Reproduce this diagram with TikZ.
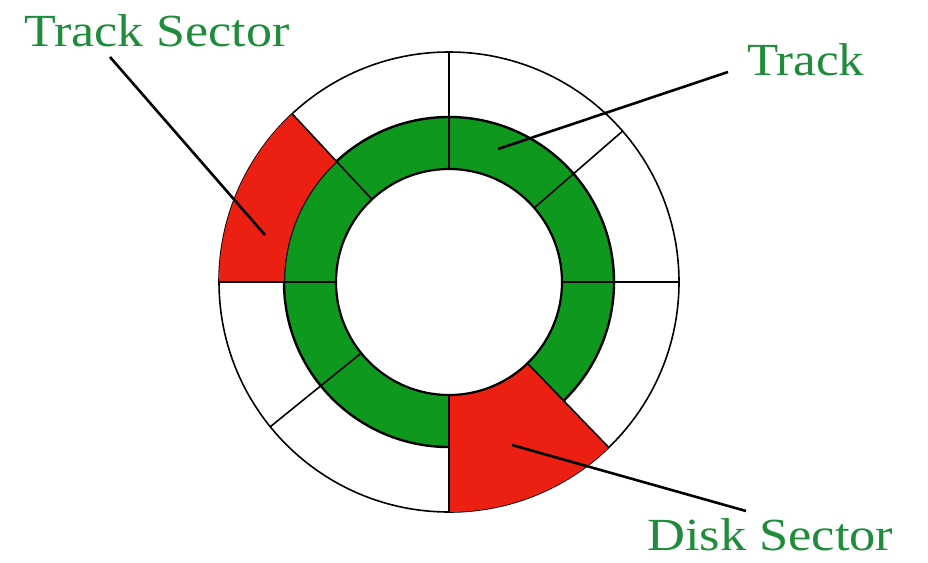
\documentclass[tikz,border=0pt]{standalone}
\usepackage{fontspec}
\setmainfont{Liberation Serif}
\usetikzlibrary{calc}
\definecolor{ringgreen}{RGB}{14,152,30}
\definecolor{secred}{RGB}{236,32,18}
\definecolor{labgreen}{RGB}{30,140,58}
\tikzset{
  lab/.style={text=labgreen, font=\fontsize{46}{50}\selectfont, inner sep=0pt, anchor=base west},
  pointer/.style={line width=2.6pt, black},
  thin/.style={line width=1.6pt, black},
}
\newcommand{\wide}[2][1.1]{\scalebox{#1}[1]{#2}}
\begin{document}
\begin{tikzpicture}[x=1pt,y=1pt]
\useasboundingbox (0,0) rectangle (928,-562);
\fill[white] (0,0) rectangle (928,-562);
\coordinate (C) at (449,-282);
\def\R{230}\def\G{165}\def\I{113}
% green ring
\fill[ringgreen,even odd rule] (C) circle (\G) (C) circle (\I);
% circles
\draw[thin] (C) circle (\R);
\draw[line width=2.4pt] (C) circle (\G);
% red sectors
\fill[secred] ($(C)+(270:\I)$) arc[start angle=270,end angle=314,radius=\I]
  -- ($(C)+(314:\R)$) arc[start angle=314,end angle=270,radius=\R] -- cycle;
\fill[secred] ($(C)+(133:\G)$) arc[start angle=133,end angle=180,radius=\G]
  -- ($(C)+(180:\R)$) arc[start angle=180,end angle=133,radius=\R] -- cycle;
\draw[line width=2.2pt] (C) circle (\I);
% radial lines
\foreach \a in {0,41,90,133,180,219,270,314}
  \draw[thin] ($(C)+(\a:\I)$) -- ($(C)+(\a:\R)$);
% labels
\node[lab] (ts) at (24,-46) {\wide[1.13]{Track Sector}};
\node[lab] (tr) at (747,-75) {\wide[1.11]{Track}};
\node[lab] (ds) at (647,-550) {\wide[1.14]{Disk Sector}};
% pointers
\coordinate (tsA) at (110,-57);
\coordinate (tsB) at (265,-235);
\coordinate (trA) at (728,-72);
\coordinate (trB) at (498,-149);
\coordinate (dsA) at (746,-511);
\coordinate (dsB) at (512,-445);
\draw[pointer] (tsA) -- (tsB);
\draw[pointer] (trA) -- (trB);
\draw[pointer] (dsA) -- (dsB);
\end{tikzpicture}
\end{document}
